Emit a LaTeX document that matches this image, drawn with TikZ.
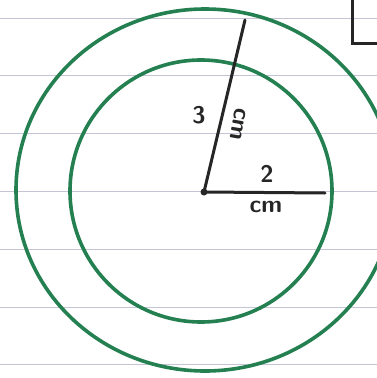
\documentclass[tikz,border=0pt]{standalone}
\usepackage{tikz}
\usetikzlibrary{positioning,calc}

\definecolor{pengreen}{RGB}{36,128,80}
\definecolor{ruling}{RGB}{196,196,212}

\begin{document}
\begin{tikzpicture}[
    x=1pt, y=-1pt,
    ring/.style={draw=pengreen, line width=3.6pt},
    ruleline/.style={draw=ruling, line width=0.7pt},
    radius line/.style={draw=black!85, line width=3pt, line cap=round},
    hand/.style={font=\fontsize{24}{26}\selectfont\sffamily\bfseries, text=black!85, inner sep=0pt}
]
\useasboundingbox (0,0) rectangle (377,378);
\fill[white] (0,0) rectangle (377,378);

% Ruled paper
\foreach \i in {0,...,6} {
    \draw[ruleline] (0, 18+\i*57.8) -- (377, 18+\i*57.8);
}

% Corner box
\draw[black!85, line width=3pt] (352,-2) -- (352,43) -- (380,43);

% Circles
\node[coordinate] (centre) at (204,192) {};
\draw[ring] (205,190) ellipse [x radius=189, y radius=181];
\draw[ring] (201,191) circle (131);

% Radii
\coordinate (outer end) at (245,20);
\coordinate (inner end) at (325,193);
\draw[radius line] (centre) -- (outer end);
\draw[radius line] (centre) -- (inner end);
\fill[black!85] (centre) circle (3.5);

% Labels
\node[hand] (three) at (199,115) {3};
\node[hand, rotate=-100] (cmslant) at (238,124) {cm};
\node[hand] (two) at (267,174) {2};
\node[hand] (cmflat) at (266,207) {cm};

\end{tikzpicture}
\end{document}
